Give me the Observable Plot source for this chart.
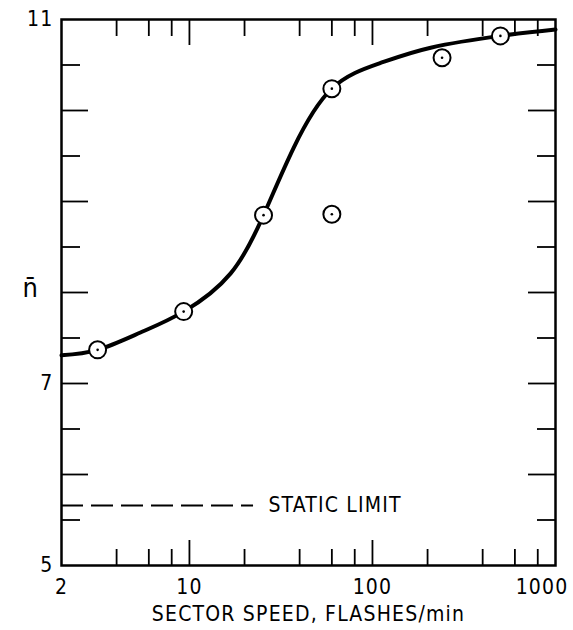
<!DOCTYPE html>
<html>
<head>
<meta charset="utf-8">
<script src="https://cdn.jsdelivr.net/npm/d3@7"></script>
<script src="https://cdn.jsdelivr.net/npm/@observablehq/plot@0.6"></script>
<style>
  html, body { margin: 0; padding: 0; background: #fff; }
  #chart svg { display: block; }
  #chart svg text { letter-spacing: 1.2px; }
</style>
</head>
<body>
<div id="chart"></div>
<script>
// Smooth fitted curve of mean chain length vs. sector speed
const curveX = [2, 3.15, 5.4, 9.3, 16.8, 25.4, 37.1, 60, 110, 208, 500, 1000];
const curveY = [7.31, 7.37, 7.56, 7.79, 8.21, 8.85, 9.59, 10.24, 10.52, 10.69, 10.82, 10.89];

// Measured points
const pointX = [3.15, 9.3, 25.4, 60, 60, 240, 500];
const pointY = [7.37, 7.79, 8.85, 10.24, 8.86, 10.58, 10.82];

// Static limit (dashed reference)
const staticLimit = 5.66;
const staticLineEnd = 22.4;
const staticLabelX = 27;
const staticLabel = "STATIC LIMIT";

// Axis ticks and labels
const xLabels = [2, 10, 100];
const xLabelLast = [1000];
const xMajor = [10, 100];
const xMinor = [4, 6, 8, 20, 40, 60, 80, 200, 400, 600, 800];
const yLabels = [5, 7, 11];
const yMajor = [6, 7, 8, 9, 10];
const yMinor = [5.5, 6.5, 7.5, 8.5, 9.5, 10.5];
const xTitle = "SECTOR SPEED, FLASHES/min";
const yTitle = "n\u0304";

const curve = curveX.map((x, i) => ({x, y: curveY[i]}));
const points = pointX.map((x, i) => ({x, y: pointY[i]}));

const W = 573, H = 630, mL = 61, mR = 18, mT = 19, mB = 65;
const frameH = H - mT - mB, frameW = W - mL - mR;
const font = "'DejaVu Sans Condensed', 'Liberation Sans Narrow', 'DejaVu Sans', sans-serif";

const chart = Plot.plot({
  width: W, height: H,
  marginLeft: mL, marginRight: mR, marginTop: mT, marginBottom: mB,
  style: {fontFamily: font, fontSize: "20px", color: "#000", background: "#fff"},
  x: {type: "log", domain: [2, 1000]},
  y: {domain: [5, 11]},
  marks: [
    // inward ticks, bottom and top
    Plot.tickX(xMinor, {x: d => d, insetTop: frameH - 16, strokeWidth: 1.8}),
    Plot.tickX(xMajor, {x: d => d, insetTop: frameH - 25, strokeWidth: 1.8}),
    Plot.tickX(xMinor, {x: d => d, insetBottom: frameH - 17, strokeWidth: 1.8}),
    Plot.tickX(xMajor, {x: d => d, insetBottom: frameH - 26, strokeWidth: 1.8}),
    // inward ticks, left and right
    Plot.tickY(yMinor, {y: d => d, insetRight: frameW - 19, strokeWidth: 1.8}),
    Plot.tickY(yMajor, {y: d => d, insetRight: frameW - 27, strokeWidth: 1.8}),
    Plot.tickY(yMinor, {y: d => d, insetLeft: frameW - 18, strokeWidth: 1.8}),
    Plot.tickY(yMajor, {y: d => d, insetLeft: frameW - 27, strokeWidth: 1.8}),
    Plot.axisX({ticks: xLabels, tickSize: 0, tickPadding: 14, tickFormat: d => String(d), label: null, fontSize: 21}),
    Plot.axisX({ticks: xLabelLast, tickSize: 0, tickPadding: 14, tickFormat: d => String(d), label: null, fontSize: 21, textAnchor: "end", dx: 13}),
    Plot.axisY({ticks: yLabels, tickSize: 0, tickPadding: 8, tickFormat: d => String(d), label: null, fontSize: 21}),
    Plot.text([xTitle], {frameAnchor: "bottom", dy: 55, fontSize: 21, fill: "black"}),
    Plot.text([yTitle], {frameAnchor: "left", dx: -39, dy: -4, fontSize: 27, fill: "black"}),
    // static limit
    Plot.ruleY([staticLimit], {x1: 2, x2: staticLineEnd, stroke: "black", strokeWidth: 2, strokeDasharray: "22,8"}),
    Plot.text([staticLabel], {x: staticLabelX, y: staticLimit, textAnchor: "start", fontSize: 21, fill: "black"}),
    Plot.frame({stroke: "black", strokeWidth: 2.5}),
    // fitted curve
    Plot.line(curve, {x: "x", y: "y", curve: "natural", stroke: "black", strokeWidth: 4}),
    // data points
    Plot.dot(points, {x: "x", y: "y", r: 8.5, fill: "white", stroke: "black", strokeWidth: 2}),
    Plot.dot(points, {x: "x", y: "y", r: 1.3, fill: "black", stroke: "none"})
  ]
});
document.getElementById("chart").append(chart);
</script>
</body>
</html>
